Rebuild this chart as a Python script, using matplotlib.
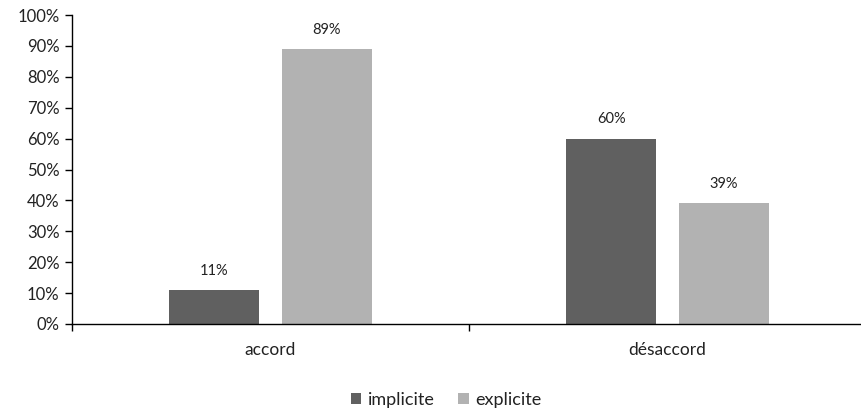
import matplotlib
matplotlib.use("Agg")
import matplotlib.pyplot as plt
from matplotlib.ticker import MultipleLocator, FuncFormatter

categories = ["accord", "désaccord"]
series_names = ["implicite", "explicite"]
implicite = [11, 60]
explicite = [89, 39]
colors = ["#606060", "#b2b2b2"]

plt.rcParams["font.family"] = ["Lato", "DejaVu Sans"]

W, H = 861, 413
fig = plt.figure(figsize=(W / 100, H / 100), dpi=100)
ax = fig.add_axes([72 / W, (H - 324) / H, (866 - 72) / W, 309 / H])

x = [0, 1]
width = 0.225
offset = 0.142
for vals, name, col, sgn in [(implicite, series_names[0], colors[0], -1),
                             (explicite, series_names[1], colors[1], 1)]:
    pos = [xi + sgn * offset for xi in x]
    bars = ax.bar(pos, vals, width=width, color=col, label=name)
    for b, v in zip(bars, vals):
        ax.text(b.get_x() + b.get_width() / 2, v + 4, f"{v}%",
                ha="center", va="bottom", fontsize=10.5, color="#222222")

ax.set_ylim(0, 100)
ax.set_xlim(-0.5, 1.5)
ax.yaxis.set_major_locator(MultipleLocator(10))
ax.yaxis.set_major_formatter(FuncFormatter(lambda v, p: f"{int(v)}%"))
ax.set_xticks(x)
ax.set_xticklabels(categories)
ax.set_xticks([-0.5, 0.5, 1.5], minor=True)
ax.tick_params(axis="x", which="major", length=0, pad=13, labelsize=12.5, labelcolor="#222222")
ax.tick_params(axis="x", which="minor", length=5, width=1, direction="out")
ax.tick_params(axis="y", length=5, width=1, direction="out", labelsize=12,
               pad=4, labelcolor="#222222")

for side in ["top", "right"]:
    ax.spines[side].set_visible(False)
for side in ["left", "bottom"]:
    ax.spines[side].set_linewidth(1)
    ax.spines[side].set_color("#000000")

fig.legend(loc="center", bbox_to_anchor=(446 / W, 1 - 400 / H), ncol=2,
           frameon=False, fontsize=13, handlelength=0.6, handleheight=0.6,
           handletextpad=0.35, columnspacing=1.3, labelcolor="#222222")

fig.savefig("out.png", dpi=100)
